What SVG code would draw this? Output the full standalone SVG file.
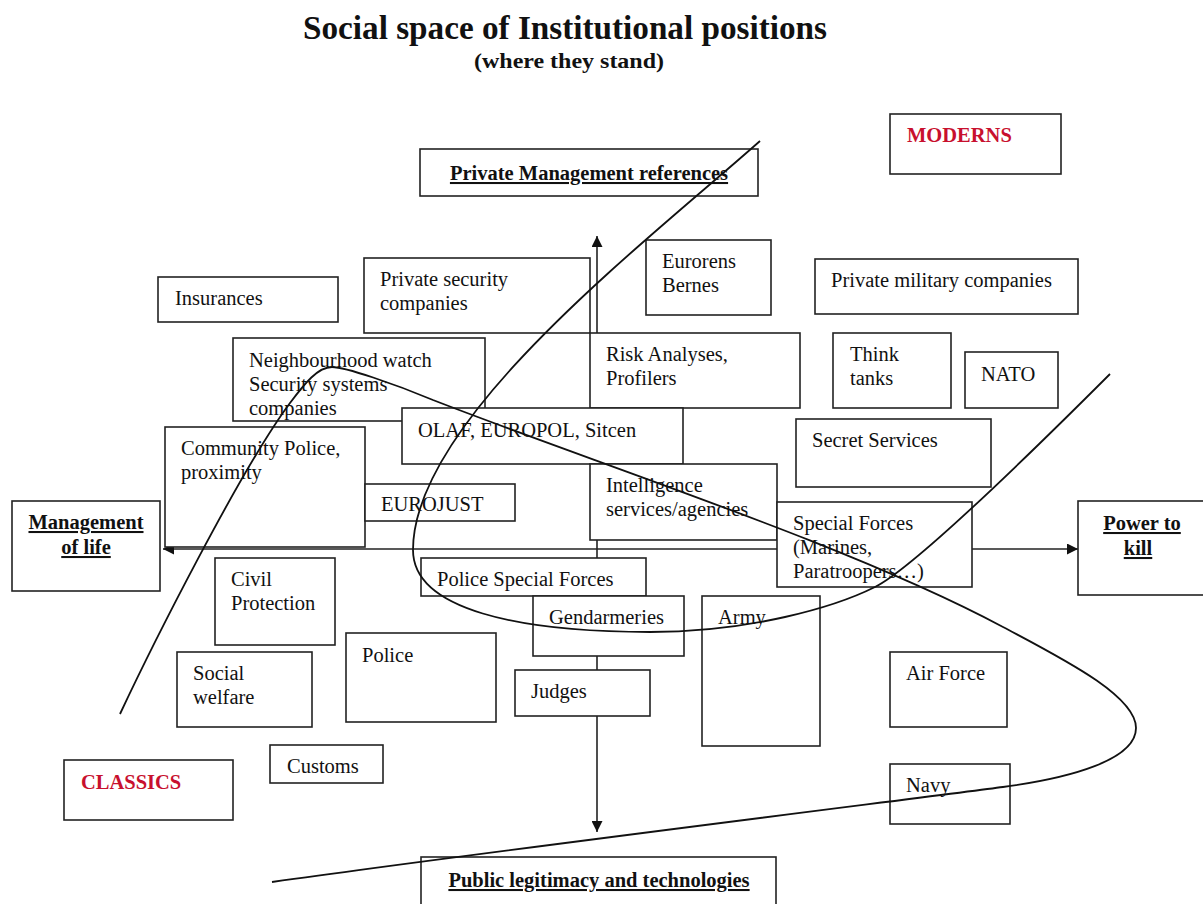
<svg xmlns="http://www.w3.org/2000/svg" width="1203" height="904" viewBox="0 0 1203 904">
<style>
text{font-family:"Liberation Serif","Times New Roman",serif;fill:#111}
.t{font-size:20.5px}
.h{font-size:20.5px;font-weight:bold;text-decoration:underline}
.r{font-size:20.5px;font-weight:bold;fill:#c8102e}
.b{fill:#fff;stroke:#222;stroke-width:1.6}
.ax{stroke:#222;stroke-width:1.6;fill:none}
.cv{stroke:#111;stroke-width:1.8;fill:none}
</style>
<defs>
<marker id="ah" viewBox="0 0 10 10" refX="10" refY="5" markerWidth="12" markerHeight="11" orient="auto-start-reverse" markerUnits="userSpaceOnUse">
<path d="M0,0 L10,5 L0,10 z" fill="#111"/>
</marker>
<clipPath id="nbclip"><rect x="233" y="338" width="252" height="83"/></clipPath>
</defs>
<rect width="1203" height="904" fill="#fff"/>
<g id="title">
<text x="565" y="39" text-anchor="middle" font-size="34" font-weight="bold" textLength="524" lengthAdjust="spacingAndGlyphs">Social space of Institutional positions</text>
<text x="569" y="68" text-anchor="middle" font-size="22" font-weight="bold" textLength="190" lengthAdjust="spacingAndGlyphs">(where they stand)</text>
</g>
<g id="connectors">
<line class="ax" x1="597" y1="832" x2="597" y2="236" marker-end="url(#ah)" marker-start="url(#ah)"/>
<line class="ax" x1="163" y1="549" x2="1078" y2="549" marker-end="url(#ah)" marker-start="url(#ah)"/>
</g>
<g id="private-management"><rect class="b" x="420" y="149" width="338" height="47"/><text class="h" x="589" y="180" text-anchor="middle">Private Management references</text></g>
<g id="moderns"><rect class="b" x="890" y="114" width="171" height="60"/><text class="r" x="907" y="142">MODERNS</text></g>
<g id="insurances"><rect class="b" x="158" y="277" width="180" height="45"/><text class="t" x="175" y="305">Insurances</text></g>
<g id="private-security"><rect class="b" x="364" y="258" width="226" height="75"/><text class="t" x="380" y="286">Private security</text><text class="t" x="380" y="310">companies</text></g>
<g id="eurorens"><rect class="b" x="646" y="240" width="125" height="75"/><text class="t" x="662" y="268">Eurorens</text><text class="t" x="662" y="292">Bernes</text></g>
<g id="private-military"><rect class="b" x="815" y="259" width="263" height="55"/><text class="t" x="831" y="287">Private military companies</text></g>
<g id="neighbourhood"><rect class="b" x="233" y="338" width="252" height="83"/><g clip-path="url(#nbclip)"><text class="t" x="249" y="367">Neighbourhood watch</text><text class="t" x="249" y="391">Security systems</text><text class="t" x="249" y="415">companies</text></g></g>
<g id="risk"><rect class="b" x="590" y="333" width="210" height="75"/><text class="t" x="606" y="361">Risk Analyses,</text><text class="t" x="606" y="385">Profilers</text></g>
<g id="think-tanks"><rect class="b" x="833" y="333" width="118" height="75"/><text class="t" x="850" y="361">Think</text><text class="t" x="850" y="385">tanks</text></g>
<g id="nato"><rect class="b" x="965" y="352" width="93" height="56"/><text class="t" x="981" y="381">NATO</text></g>
<g id="olaf"><rect class="b" x="402" y="408" width="281" height="56"/><text class="t" x="418" y="437">OLAF, EUROPOL, Sitcen</text></g>
<g id="community-police"><rect class="b" x="165" y="427" width="200" height="120"/><text class="t" x="181" y="455">Community Police,</text><text class="t" x="181" y="479">proximity</text></g>
<g id="eurojust"><rect class="b" x="365" y="484" width="150" height="37"/><text class="t" x="381" y="511">EUROJUST</text></g>
<g id="secret-services"><rect class="b" x="796" y="419" width="195" height="68"/><text class="t" x="812" y="447">Secret Services</text></g>
<g id="intelligence"><rect class="b" x="590" y="464" width="187" height="76"/><text class="t" x="606" y="492">Intelligence</text><text class="t" x="606" y="516">services/agencies</text></g>
<g id="special-forces"><rect class="b" x="777" y="502" width="195" height="85"/><text class="t" x="793" y="530">Special Forces</text><text class="t" x="793" y="554">(Marines,</text><text class="t" x="793" y="578">Paratroopers…)</text></g>
<g id="management-of-life"><rect class="b" x="12" y="501" width="148" height="90"/><text class="h" x="86" y="529" text-anchor="middle">Management</text><text class="h" x="86" y="554" text-anchor="middle">of life</text></g>
<g id="power-to-kill"><rect class="b" x="1078" y="501" width="135" height="94"/><text class="h" x="1142" y="530" text-anchor="middle">Power to</text><text class="h" x="1138" y="555" text-anchor="middle">kill</text></g>
<g id="civil-protection"><rect class="b" x="215" y="558" width="120" height="87"/><text class="t" x="231" y="586">Civil</text><text class="t" x="231" y="610">Protection</text></g>
<g id="police-special-forces"><rect class="b" x="421" y="558" width="225" height="38"/><text class="t" x="437" y="586">Police Special Forces</text></g>
<g id="gendarmeries"><rect class="b" x="533" y="596" width="151" height="60"/><text class="t" x="549" y="624">Gendarmeries</text></g>
<g id="army"><rect class="b" x="702" y="596" width="118" height="150"/><text class="t" x="718" y="624">Army</text></g>
<g id="police"><rect class="b" x="346" y="633" width="150" height="89"/><text class="t" x="362" y="662">Police</text></g>
<g id="social-welfare"><rect class="b" x="177" y="652" width="135" height="75"/><text class="t" x="193" y="680">Social</text><text class="t" x="193" y="704">welfare</text></g>
<g id="judges"><rect class="b" x="515" y="670" width="135" height="46"/><text class="t" x="531" y="698">Judges</text></g>
<g id="air-force"><rect class="b" x="890" y="652" width="117" height="75"/><text class="t" x="906" y="680">Air Force</text></g>
<g id="customs"><rect class="b" x="270" y="745" width="113" height="38"/><text class="t" x="287" y="773">Customs</text></g>
<g id="classics"><rect class="b" x="64" y="760" width="169" height="60"/><text class="r" x="81" y="789">CLASSICS</text></g>
<g id="navy"><rect class="b" x="890" y="764" width="120" height="60"/><text class="t" x="906" y="792">Navy</text></g>
<g id="public-legitimacy"><rect class="b" x="421" y="857" width="355" height="60"/><text class="h" x="599" y="887" text-anchor="middle">Public legitimacy and technologies</text></g>
<g id="curves">
<path class="cv" d="M760,141 C645,243 413,420 413,550 C413,610 520,632 650,632 C750,632 835,607 875,587 C915,567 1050,434 1110,374"/>
<path class="cv" d="M120,714 C150,650 240,470 290,403 C305,383 318,367 332,367 C345,367 395,384 433,400 C600,465 850,545 1003,627 C1059,657 1136,695 1136,728 C1136,760 1070,778 1003,787 C936,796 500,850 272,882"/>
</g>
</svg>
